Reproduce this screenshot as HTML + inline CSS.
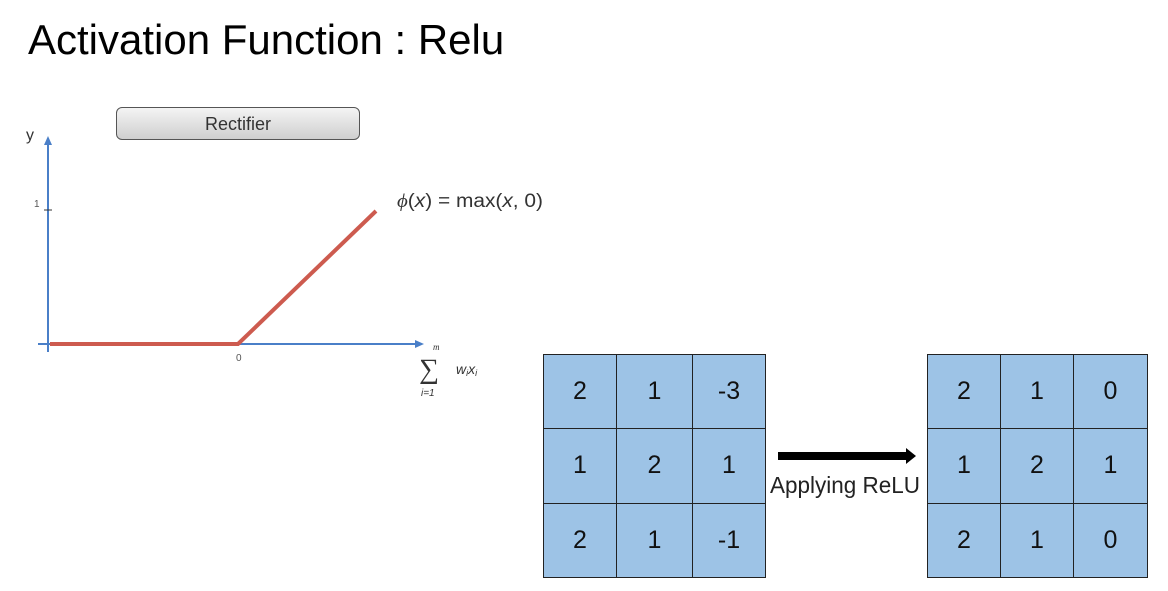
<!DOCTYPE html>
<html><head><style>
body{margin:0;width:1168px;height:591px;background:#fff;position:relative;overflow:hidden;font-family:"Liberation Sans",sans-serif}
.t{position:absolute;left:28px;top:16px;font-size:42px;color:#000}
.btn{position:absolute;left:116px;top:107px;width:244px;height:33px;border:1.5px solid #555;border-radius:6px;background:linear-gradient(#f4f4f4,#cfcfcf);text-align:center;font-size:18px;line-height:32px;color:#333;box-sizing:border-box}
.g{position:absolute;border-collapse:collapse;background:#9dc3e6;table-layout:fixed}
.g td{border:1.5px solid #222;text-align:center;font-size:25px;color:#111;padding:0}
</style></head><body>
<div class="t">Activation Function : Relu</div>
<div class="btn">Rectifier</div>
<svg width="1168" height="591" style="position:absolute;left:0;top:0">
<line x1="48" y1="352" x2="48" y2="142" stroke="#4a7fc8" stroke-width="2"/>
<polygon points="48,136 44,145 52,145" fill="#4a7fc8"/>
<line x1="38" y1="344" x2="418" y2="344" stroke="#4a7fc8" stroke-width="2"/>
<polygon points="424,344 415,340 415,348" fill="#4a7fc8"/>
<line x1="44" y1="210" x2="52" y2="210" stroke="#333" stroke-width="1"/>
<polyline points="50,344 238,344 376,211" fill="none" stroke="#cd5b4f" stroke-width="4"/>
<text x="26" y="140" font-size="16" fill="#333" font-family="Liberation Sans">y</text>
<text x="34" y="207" font-size="10" fill="#555" font-family="Liberation Sans">1</text>
<text x="236" y="361" font-size="10" fill="#555" font-family="Liberation Sans">0</text>
<text x="397" y="207" font-size="19" fill="#333" font-family="Liberation Sans" textLength="146" lengthAdjust="spacingAndGlyphs"><tspan font-style="italic" font-family="Liberation Serif">ϕ</tspan>(<tspan font-style="italic">x</tspan>) = max(<tspan font-style="italic">x</tspan>, 0)</text>
<text x="433" y="350" font-size="9" font-style="italic" fill="#333" font-family="Liberation Serif">m</text>
<text x="419" y="378" font-size="28" fill="#333" font-family="Liberation Serif">∑</text>
<text x="456" y="374" font-size="14" font-style="italic" fill="#333" font-family="Liberation Sans">w<tspan font-size="9" dy="2">i</tspan><tspan dy="-2">x</tspan><tspan font-size="9" dy="2">i</tspan></text>
<text x="421" y="396" font-size="10" font-style="italic" fill="#333" font-family="Liberation Sans">i=1</text>
<rect x="778" y="452" width="130" height="8" fill="#000"/>
<polygon points="916,456 906,448 906,464" fill="#000"/>
<text x="770" y="493" font-size="23" fill="#222" font-family="Liberation Sans" textLength="150" lengthAdjust="spacingAndGlyphs">Applying ReLU</text>
</svg>
<table class="g" style="left:543px;top:354px;width:222px;height:224px">
<colgroup><col style="width:73px"><col style="width:76px"><col style="width:73px"></colgroup>
<tr><td>2</td><td>1</td><td>-3</td></tr><tr><td>1</td><td>2</td><td>1</td></tr><tr><td>2</td><td>1</td><td>-1</td></tr></table>
<table class="g" style="left:927px;top:354px;width:220px;height:224px">
<colgroup><col style="width:73px"><col style="width:73px"><col style="width:74px"></colgroup>
<tr><td>2</td><td>1</td><td>0</td></tr><tr><td>1</td><td>2</td><td>1</td></tr><tr><td>2</td><td>1</td><td>0</td></tr></table>
</body></html>
